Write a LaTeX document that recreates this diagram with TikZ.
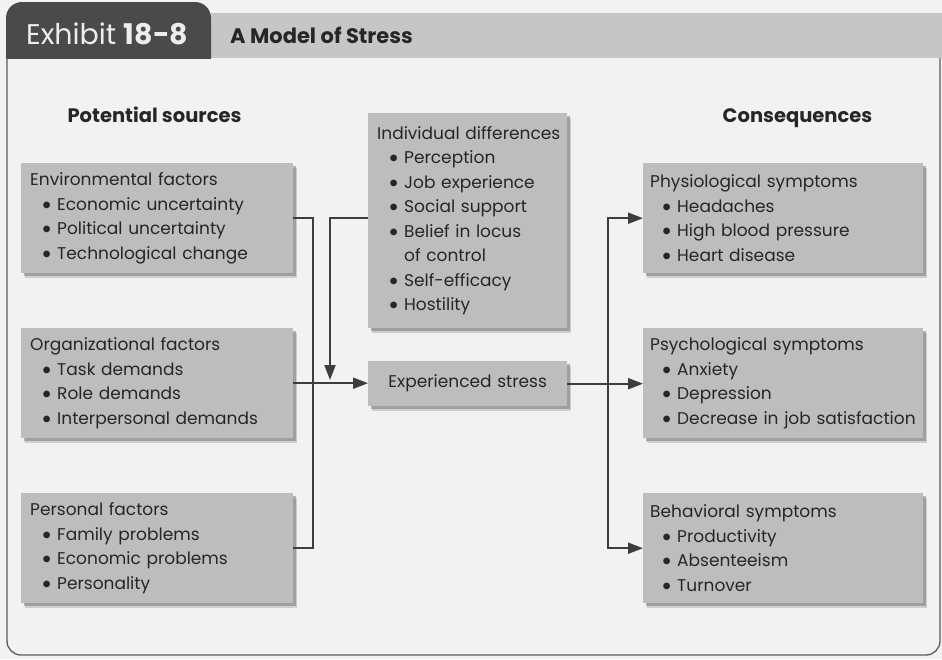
\documentclass[tikz,border=0pt]{standalone}
\usepackage{fontspec}
\setmainfont{Poppins}
\usetikzlibrary{arrows.meta,shadows,calc}
\definecolor{bg}{HTML}{F2F2F2}
\definecolor{tabdark}{HTML}{4A4A4A}
\definecolor{bargray}{HTML}{C6C6C6}
\definecolor{boxgray}{HTML}{BDBDBD}
\definecolor{lncol}{HTML}{3D3D3D}
\definecolor{txt}{HTML}{262626}
\definecolor{framecol}{HTML}{5A5A5A}
\newcommand\bul{\raisebox{-4pt}[0pt][0pt]{\scalebox{1.6}{\textbullet}}}
\newcommand\ttl[1]{\mbox{#1}}
\newcommand\bl[1]{\mbox{\hspace*{11pt}\makebox[16pt][l]{\bul}#1}}
\newcommand\cnt[1]{\mbox{\hspace*{27pt}#1}}
\tikzset{
  box/.style={fill=boxgray, draw=none, inner xsep=9pt, inner ysep=0pt,
    anchor=north west, align=left, text=txt,
    font=\fontsize{17pt}{24.5pt}\selectfont,
    drop shadow={shadow xshift=4pt, shadow yshift=-5pt, fill=black!45, opacity=0.35},
    drop shadow={shadow xshift=2.5pt, shadow yshift=-3pt, fill=black!60, opacity=0.45}},
  lbox/.style={box, minimum width=272pt, minimum height=110pt, text width=254pt},
  rbox/.style={box, inner xsep=7pt, minimum width=280pt, minimum height=110pt, text width=266pt},
  ln/.style={draw=lncol, line width=2pt},
  arr/.style={-{Triangle[length=15pt,width=11pt]}},
  hd/.style={anchor=base, inner sep=0pt, text=txt, font=\fontsize{19.5pt}{22pt}\selectfont\bfseries},
}
\begin{document}
\begin{tikzpicture}[x=1pt, y=-1pt]
\useasboundingbox (0,0) rectangle (942,659);
\fill[bg] (0,0) rectangle (942,659);
% header
\fill[bargray] (211,13) rectangle (942,58);
\begin{scope}
  \clip (0,0) rectangle (220,58);
  \fill[tabdark, rounded corners=16pt] (6,2) rectangle (211,100);
\end{scope}
\node[anchor=base west, inner sep=0pt, text=white!93!black, font=\fontsize{28.5pt}{30pt}\selectfont] (exh) at (26,44) {Exhibit \textbf{18-8}};
\node[anchor=base west, inner sep=0pt, text=txt, font=\fontsize{21pt}{24pt}\selectfont\bfseries] (ttl) at (230,43) {A Model of Stress};
% frame
\draw[draw=framecol, line width=1.3pt, rounded corners=14pt] (7,58) -- (7,655) -- (940,655) -- (940,58);
% column headings
\node[hd] (hsrc) at (154.5,122) {Potential sources};
\node[hd] (hcon) at (797.5,122) {Consequences};
% left boxes
\node[lbox] (env) at (21,163) {\ttl{Environmental factors}\\\bl{Economic uncertainty}\\\bl{Political uncertainty}\\\bl{Technological change}};
\node[lbox] (org) at (21,328) {\ttl{Organizational factors}\\\bl{Task demands}\\\bl{Role demands}\\\bl{Interpersonal demands}};
\node[lbox] (per) at (21,493) {\ttl{Personal factors}\\\bl{Family problems}\\\bl{Economic problems}\\\bl{Personality}};
% center boxes
\node[box, minimum width=199pt, minimum height=215pt, text width=181pt] (id) at (368,113) {\ttl{Individual differences}\\\bl{Perception}\\\bl{Job experience}\\\bl{Social support}\\\bl{Belief in locus}\\\cnt{of control}\\\bl{Self-efficacy}\\\bl{Hostility}};
\node[box, minimum width=199pt, minimum height=45pt, text width=181pt, align=center] (es) at (368,361) {Experienced stress};
% right boxes
\node[rbox] (phy) at (643,163) {\ttl{Physiological symptoms}\\\bl{Headaches}\\\bl{High blood pressure}\\\bl{Heart disease}};
\node[rbox] (psy) at (643,328) {\ttl{Psychological symptoms}\\\bl{Anxiety}\\\bl{Depression}\\\bl{Decrease in job satisfaction}};
\node[rbox] (beh) at (643,493) {\ttl{Behavioral symptoms}\\\bl{Productivity}\\\bl{Absenteeism}\\\bl{Turnover}};
% connectors
\coordinate (dn) at (330,380);
\coordinate (rj) at (608,383);
\draw[ln] (env.east) -- ++(20,0) |- (per.east);
\draw[ln, arr] (org.east) -- (org.east -| es.west);
\draw[ln, arr] (env.east -| id.west) -| (dn);
\draw[ln, arr] (es.east) -- (es.east -| psy.west);
\draw[ln, arr] (rj) |- (phy.west);
\draw[ln, arr] (rj) |- (beh.west);
\end{tikzpicture}
\end{document}
